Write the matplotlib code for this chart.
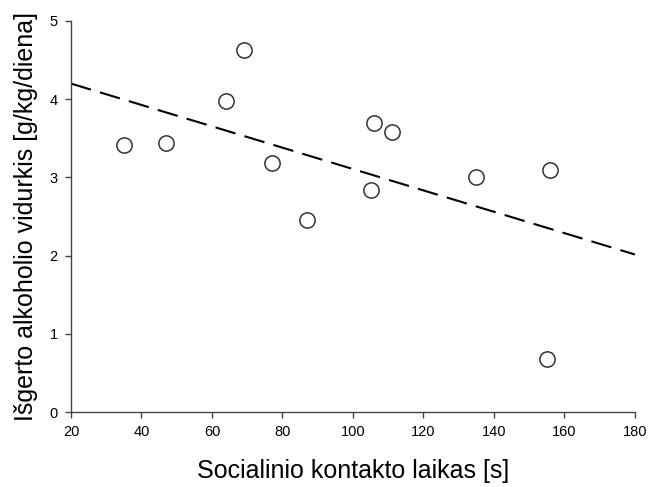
import numpy as np
import matplotlib
matplotlib.use("Agg")
import matplotlib.pyplot as plt

plt.rcParams['font.family'] = ['Liberation Sans', 'DejaVu Sans']

# socialinio kontakto laikas [s] vs isgerto alkoholio vidurkis
contact_s = [35, 47, 64, 69, 77, 87, 105, 106, 111, 135, 155, 156]
alcohol = [3.41, 3.44, 3.98, 4.63, 3.19, 2.45, 2.84, 3.70, 3.58, 3.01, 0.68, 3.09]

x = np.array(contact_s)
y = np.array(alcohol)
slope, intercept = np.polyfit(x, y, 1)

fig = plt.figure(figsize=(6.49, 4.87), dpi=100)
ax = fig.add_axes([0.1094, 0.154, 0.869, 0.803])

xx = np.array([20, 180])
ax.plot(xx, slope * xx + intercept, color='black', lw=1.5, dashes=(10, 4.5))
ax.plot(x, y, 'o', ms=11, mfc='white', mec='#333333', mew=1.1, ls='none')

ax.set_xlim(20, 180)
ax.set_ylim(0, 5)
ax.set_xticks(np.arange(20, 181, 20))
ax.set_yticks(np.arange(0, 6, 1))

for s in ['top', 'right']:
    ax.spines[s].set_visible(False)
for s in ['left', 'bottom']:
    ax.spines[s].set_color('#444444')
    ax.spines[s].set_linewidth(1.0)
ax.tick_params(direction='out', length=4.5, width=1.0, color='#444444', labelsize=10.5)
ax.tick_params(axis='x', pad=5)
ax.tick_params(axis='y', pad=5)

ax.set_xlabel('Socialinio kontakto laikas [s]', fontsize=18, labelpad=14)
ax.set_ylabel('Išgerto alkoholio vidurkis [g/kg/diena]', fontsize=18, labelpad=8)

fig.savefig('out.png', dpi=100)
